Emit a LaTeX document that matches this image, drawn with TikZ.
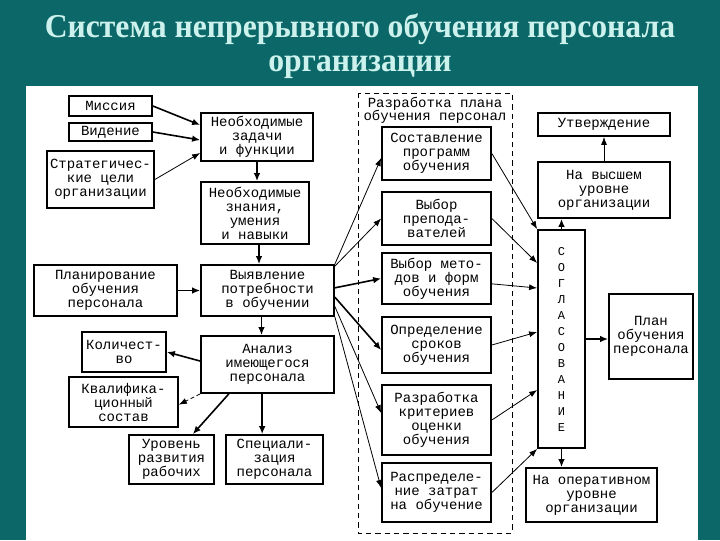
\documentclass[tikz,border=0pt]{standalone}
\usepackage{fontspec}
\setmainfont{Liberation Serif}
\newfontfamily\titlefont[FakeStretch=0.95]{Liberation Serif}
\newfontfamily\boxfont{Liberation Mono}
\usetikzlibrary{arrows.meta}

\definecolor{bgteal}{RGB}{12,104,104}
\definecolor{titlecol}{RGB}{205,242,238}

\tikzset{every picture/.style={line width=0.75pt}}
\tikzset{
  box/.style={draw, line width=1.3pt, fill=white, align=center, inner sep=1pt,
    font=\boxfont\fontsize{10.5}{10.5}\selectfont},
  thin arrow/.style={line width=0.6pt, -{Latex[length=6pt,width=4.5pt]}},
  thick arrow/.style={line width=1.2pt, -{Latex[length=6pt,width=5pt]}},
}

\begin{document}
\begin{tikzpicture}[x=0.75pt,y=0.75pt,yscale=-1,xscale=1]
		\useasboundingbox (0,0) rectangle (720,540);
		% background and panel
		\fill [bgteal] (0,0) rectangle (720,540);
		\fill [white] (26,86) rectangle (698,540);
		
		% Title
		\node (title) [align=center, inner sep=0pt, text=titlecol, font=\titlefont\bfseries\fontsize{25}{25}\selectfont] at (360,46) {Система непрерывного обучения персонала\\организации};
		
		% Dashed frame of the plan
		\draw [line width=0.6pt, dash pattern={on 4pt off 3pt}] (358,93) rectangle (512,533);
		\node (plantitle) [align=center, inner sep=0.75pt, font=\boxfont\fontsize{10.5}{10}\selectfont] at (435,110) {Разработка плана\\обучения персонал};
		
		% Left column
		\node (mis) [box, minimum width=62.25pt, minimum height=15pt] at (110.5,106) {Миссия};
		\node (vid) [box, minimum width=62.25pt, minimum height=13.5pt] at (110.5,132) {Видение};
		\node (str) [box, minimum width=80.25pt, minimum height=42.75pt] at (100.5,179.5) {Стратегичес-\\кие цели\\организации};
		\node (zad) [box, minimum width=84pt, minimum height=36pt] at (257,137) {Необходимые\\задачи\\и функции};
		\node (zna) [box, minimum width=81pt, minimum height=46.5pt] at (255,213) {Необходимые\\знания,\\умения\\и навыки};
		\node (vyy) [box, minimum width=99.75pt, minimum height=38.25pt] at (267.5,290.5) {Выявление\\потребности\\в обучении};
		\node (pla) [box, minimum width=107.25pt, minimum height=38.25pt] at (105.5,290.5) {Планирование\\обучения\\персонала};
		\node (ana) [box, minimum width=99.75pt, minimum height=42.75pt] at (267.5,364.5) {Анализ\\имеющегося\\персонала};
		\node (kol) [box, minimum width=63pt, minimum height=30pt] at (124,352) {Количест-\\во};
		\node (kva) [box, minimum width=81.75pt, minimum height=37.5pt] at (123.5,402) {Квалифика-\\ционный\\состав};
		\node (urv) [box, minimum width=63.75pt, minimum height=36.75pt] at (171.5,459.5) {Уровень\\развития\\рабочих};
		\node (spc) [box, minimum width=72.75pt, minimum height=36.75pt] at (274.5,459.5) {Специали-\\зация\\персонала};
		
		% Middle column
		\node (prg) [box, minimum width=81.75pt, minimum height=39.75pt] at (436.5,153.5) {Составление\\программ\\обучения};
		\node (prp) [box, minimum width=81.75pt, minimum height=39.75pt] at (436.5,218.5) {Выбор\\препода-\\вателей};
		\node (met) [box, minimum width=81.75pt, minimum height=38.25pt] at (436.5,278.5) {Выбор мето-\\дов и форм\\обучения};
		\node (srk) [box, minimum width=81.75pt, minimum height=42pt] at (436.5,345) {Определение\\сроков\\обучения};
		\node (krt) [box, minimum width=81.75pt, minimum height=52.5pt] at (436.5,420) {Разработка\\критериев\\оценки\\обучения};
		\node (zat) [box, minimum width=81.75pt, minimum height=44.25pt] at (436.5,492.5) {Распределе-\\ние затрат\\на обучение};
		
		% Right column
		\node (utv) [box, minimum width=99pt, minimum height=17.25pt] at (604,124.5) {Утверждение};
		\node (vys) [box, minimum width=99pt, minimum height=42pt] at (604,190) {На высшем\\уровне\\организации};
		\node (sog) [box, minimum width=35.25pt, minimum height=163.5pt, font=\boxfont\fontsize{9}{12}\selectfont] at (561.5,339) {С\\О\\Г\\Л\\А\\С\\О\\В\\А\\Н\\И\\Е};
		\node (pln) [box, minimum width=63pt, minimum height=63.75pt] at (651,336.5) {План\\обучения\\персонала};
		\node (opr) [box, minimum width=98.25pt, minimum height=40.5pt] at (591.5,495) {На оперативном\\уровне\\организации};
		
		% Arrows, left part (yshift runs downwards here)
		\draw [thick arrow] (mis.east) -- ([yshift=-9pt]zad.west);
		\draw [thick arrow] (vid.east) -- ([yshift=2.25pt]zad.west);
		\draw [thin arrow] (str.east) -- ([yshift=12pt]zad.west);
		\draw [thick arrow] (zad.south) -- (zad.south |- zna.north);
		\draw [thick arrow] ([xshift=3pt]zna.south) -- ([xshift=3pt]zna.south |- vyy.north);
		\draw [thick arrow] (pla.east) -- (vyy.west);
		\draw [thick arrow] ([xshift=-4.5pt]vyy.south) -- ([xshift=-4.5pt]vyy.south |- ana.north);
		\draw [thick arrow] ([yshift=-2.6pt]ana.west) -- (kol.east);
		\draw [thin arrow, dash pattern={on 3pt off 2pt}] (ana.south west) -- ([yshift=2pt]kva.east);
		\draw [thick arrow] ([xshift=-29pt]ana.south) -- ([xshift=16pt]urv.north);
		\draw [thick arrow] ([xshift=-4pt]ana.south) -- ([xshift=-4pt]ana.south |- spc.north);
		
		% Arrows to the plan
		\draw [thin arrow] (vyy.north east) -- ([yshift=3.4pt]prg.west);
		\draw [thin arrow] ([yshift=1.5pt]vyy.north east) -- (prp.west);
		\draw [thick arrow] ([yshift=-2pt]vyy.east) -- (met.west);
		\draw [thick arrow] ([yshift=5pt]vyy.east) -- ([yshift=3.75pt]srk.west);
		\draw [thin arrow] ([yshift=12pt]vyy.east) -- ([yshift=-5.25pt]krt.west);
		\draw [thin arrow] (vyy.south east) -- ([yshift=-3.4pt]zat.west);
		
		% Arrows to the agreement
		\draw [thin arrow] (prg.east) -- (sog.north west);
		\draw [thin arrow] (prp.east) -- ([yshift=-57pt]sog.west);
		\draw [thin arrow] ([yshift=4pt]met.east) -- ([yshift=-38.25pt]sog.west);
		\draw [thin arrow] (srk.east) -- ([yshift=-5.25pt]sog.west);
		\draw [thin arrow] (krt.east) -- ([yshift=38.25pt]sog.west);
		\draw [thin arrow] (zat.east) -- (sog.south west);
		
		% Arrows, right part
		\draw [thick arrow] (sog.north) -- (sog.north |- vys.south);
		\draw [thin arrow] (vys.north) -- (utv.south);
		\draw [thick arrow] (sog.east) -- (sog.east -| pln.west);
		\draw [thick arrow] (sog.south) -- (sog.south |- opr.north);
		
\end{tikzpicture}
\end{document}
